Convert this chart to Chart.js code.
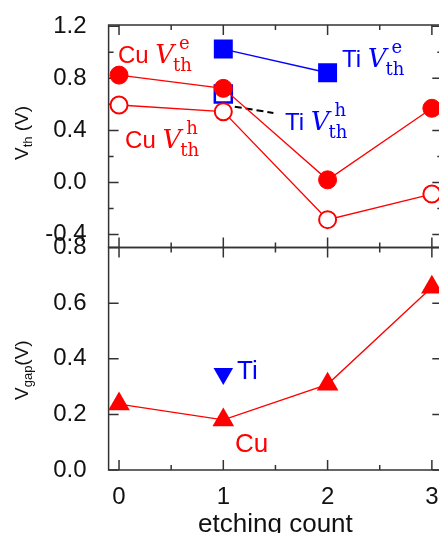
<!DOCTYPE html>
<html>
<head>
<meta charset="utf-8">
<script src="https://cdn.jsdelivr.net/npm/chart.js@4.4.0/dist/chart.umd.min.js"></script>
<style>
  html, body { margin: 0; padding: 0; overflow: hidden; background: #fff; }
  #wrap { position: relative; width: 439px; height: 533px; overflow: hidden; }
  canvas { position: absolute; left: 0; }
  #topChart { top: -20px; }
  #bottomChart { top: 200px; }
</style>
</head>
<body>
<div id="wrap">
  <canvas id="topChart" width="460" height="300"></canvas>
  <canvas id="bottomChart" width="460" height="338"></canvas>
</div>
<script>
// data
const etchCount = [0, 1, 2, 3];
const cuVthE = [0.825, 0.723, 0.02, 0.57];
const cuVthH = [0.595, 0.544, -0.286, -0.089];
const tiCountE = [1, 2];
const tiVthE = [1.025, 0.843];
const tiCountH = [1];
const tiVthH = [0.68];
const pointerX = [1.11, 1.48];
const pointerY = [0.582, 0.534];
const cuVgap = [0.237, 0.18, 0.308, 0.657];
const tiCountGap = [1];
const tiVgap = [0.346];

const xTicks = [0, 1, 2, 3];
const vthTicks = [-0.4, 0.0, 0.4, 0.8, 1.2];
const vgapTicks = [0.0, 0.2, 0.4, 0.6, 0.8];

const RED = '#ff0000';
const BLUE = '#0000ff';
const SANS = '"Liberation Sans", Arial, sans-serif';
const SERIF = '"DejaVu Serif", serif';

const pts = (xs, ys) => xs.map((x, i) => ({ x: x, y: ys[i] }));

// frame with inward ticks on all four sides
const framePlugin = {
    id: 'frame',
    beforeDatasetsDraw(chart, args, opts) {
        const { ctx, chartArea: a } = chart;
        const xs = chart.scales.x, ys = chart.scales.y;
        ctx.save();
        ctx.strokeStyle = '#333';
        ctx.lineWidth = 1.5;
        ctx.strokeRect(a.left, a.top, a.right - a.left, a.bottom - a.top);
        ctx.beginPath();
        const xTick = (v, len) => {
            const px = xs.getPixelForValue(v);
            ctx.moveTo(px, a.bottom); ctx.lineTo(px, a.bottom - len);
            ctx.moveTo(px, a.top); ctx.lineTo(px, a.top + len);
        };
        const yTick = (v, len) => {
            const py = ys.getPixelForValue(v);
            ctx.moveTo(a.left, py); ctx.lineTo(a.left + len, py);
            ctx.moveTo(a.right, py); ctx.lineTo(a.right - len, py);
        };
        xTicks.forEach(v => xTick(v, 10));
        xTicks.slice(0, -1).forEach(v => xTick(v + 0.5, 5));
        opts.yMajor.forEach(v => yTick(v, 10));
        (opts.yMinor || []).forEach(v => yTick(v, 5));
        ctx.stroke();
        ctx.restore();
    }
};

function drawThLabel(ctx, x, y, color, name, sup) {
    ctx.fillStyle = color;
    ctx.textAlign = 'left';
    ctx.textBaseline = 'alphabetic';
    ctx.font = '24px ' + SANS;
    ctx.fillText(name + ' ', x, y);
    let cx = x + ctx.measureText(name + ' ').width;
    ctx.font = 'italic 26px ' + SERIF;
    ctx.fillText('V', cx, y);
    cx += ctx.measureText('V').width;
    ctx.font = '18px ' + SERIF;
    ctx.fillText('th', cx - 1, y + 8);
    ctx.fillText(sup, cx + 5, y - 14);
}

function drawAxisTitle(ctx, x, y, sub) {
    ctx.save();
    ctx.translate(x, y);
    ctx.rotate(-Math.PI / 2);
    ctx.fillStyle = '#111';
    ctx.textAlign = 'left';
    ctx.textBaseline = 'alphabetic';
    ctx.font = '19px ' + SANS;
    ctx.fillText('V', 0, 0);
    let cx = ctx.measureText('V').width;
    ctx.font = '13px ' + SANS;
    ctx.fillText(sub, cx, 4);
    cx += ctx.measureText(sub).width;
    ctx.font = '19px ' + SANS;
    ctx.fillText(sub === 'th' ? ' (V)' : '(V)', cx, 0);
    ctx.restore();
}

const topLabels = {
    id: 'topLabels',
    afterDraw(chart) {
        const { ctx } = chart;
        const xs = chart.scales.x, ys = chart.scales.y;
        const at = (x, y) => [xs.getPixelForValue(x), ys.getPixelForValue(y)];
        ctx.save();
        let p = at(-0.01, 0.915); drawThLabel(ctx, p[0], p[1], RED, 'Cu', 'e');
        p = at(0.058, 0.265); drawThLabel(ctx, p[0], p[1], RED, 'Cu', 'h');
        p = at(2.138, 0.885); drawThLabel(ctx, p[0], p[1], BLUE, 'Ti', 'e');
        p = at(1.592, 0.405); drawThLabel(ctx, p[0], p[1], BLUE, 'Ti', 'h');
        ctx.restore();
        // canvas is shifted up by 20px
        drawAxisTitle(ctx, 28, 180, 'th');
    }
};

const bottomLabels = {
    id: 'bottomLabels',
    afterDraw(chart) {
        const { ctx } = chart;
        const xs = chart.scales.x, ys = chart.scales.y;
        ctx.save();
        ctx.font = '26px ' + SANS;
        ctx.textAlign = 'left';
        ctx.textBaseline = 'alphabetic';
        ctx.fillStyle = BLUE;
        ctx.fillText('Ti', xs.getPixelForValue(1.131), ys.getPixelForValue(0.327));
        ctx.fillStyle = RED;
        ctx.fillText('Cu', xs.getPixelForValue(1.112), ys.getPixelForValue(0.065));
        ctx.restore();
        drawAxisTitle(ctx, 28, 200, 'gap');
    }
};

const tickFont = { family: SANS, size: 24 };

function yScale(min, max, ticks) {
    return {
        type: 'linear',
        min: min,
        max: max,
        grid: { display: false },
        border: { display: false },
        afterBuildTicks: s => { s.ticks = ticks.map(v => ({ value: v })); },
        afterFit: s => { s.width = 108.6; },
        ticks: {
            color: '#111',
            font: tickFont,
            padding: 14,
            autoSkip: false,
            callback: v => v.toFixed(1)
        }
    };
}

const baseOptions = {
    responsive: false,
    animation: false,
    devicePixelRatio: 1,
    plugins: { legend: { display: false }, tooltip: { enabled: false } },
    elements: { line: { tension: 0 } }
};

new Chart(document.getElementById('topChart').getContext('2d'), {
    type: 'line',
    data: {
        datasets: [
            {
                data: pts(etchCount, cuVthE),
                borderColor: RED, borderWidth: 1.3,
                pointStyle: 'circle', pointRadius: 9, pointBorderWidth: 1,
                pointBackgroundColor: RED, pointBorderColor: RED
            },
            {
                data: pts(etchCount, cuVthH),
                borderColor: RED, borderWidth: 1.3,
                pointStyle: 'circle', pointRadius: 8.5, pointBorderWidth: 2,
                pointBackgroundColor: '#fff', pointBorderColor: RED
            },
            {
                data: pts(tiCountE, tiVthE),
                borderColor: BLUE, borderWidth: 1.3,
                pointStyle: 'rect', pointRadius: 13.4, pointBorderWidth: 0,
                pointBackgroundColor: BLUE, pointBorderColor: BLUE
            },
            {
                data: pts(pointerX, pointerY),
                borderColor: '#000', borderWidth: 2, borderDash: [7, 4],
                pointRadius: 0
            },
            {
                data: pts(tiCountH, tiVthH),
                showLine: false,
                pointStyle: 'rect', pointRadius: 12, pointBorderWidth: 2.5,
                pointBackgroundColor: 'rgba(0,0,0,0)', pointBorderColor: BLUE
            }
        ]
    },
    options: {
        ...baseOptions,
        layout: { padding: { left: 0, right: 17.7, top: 45, bottom: 32.5 } },
        scales: {
            x: { type: 'linear', min: -0.1, max: 3.1, display: false },
            y: yScale(-0.5, 1.21, vthTicks)
        },
        plugins: {
            ...baseOptions.plugins,
            frame: { yMajor: vthTicks, yMinor: [-0.2, 0.2, 0.6, 1.0] }
        }
    },
    plugins: [framePlugin, topLabels]
});

new Chart(document.getElementById('bottomChart').getContext('2d'), {
    type: 'line',
    data: {
        datasets: [
            {
                data: pts(tiCountGap, tiVgap),
                showLine: false,
                pointStyle: 'triangle', pointRotation: 180,
                pointRadius: 11.3, pointBorderWidth: 0,
                pointBackgroundColor: BLUE, pointBorderColor: BLUE
            },
            {
                data: pts(etchCount, cuVgap),
                borderColor: RED, borderWidth: 1.3,
                pointStyle: 'triangle', pointRadius: 12.5, pointBorderWidth: 0,
                pointBackgroundColor: RED, pointBorderColor: RED
            }
        ]
    },
    options: {
        ...baseOptions,
        layout: { padding: { left: 0, right: 17.7, top: 47.5, bottom: 0 } },
        scales: {
            x: {
                type: 'linear',
                min: -0.1,
                max: 3.1,
                position: 'bottom',
                grid: { display: false },
                border: { display: false },
                afterBuildTicks: s => { s.ticks = xTicks.map(v => ({ value: v })); },
                afterFit: s => { s.height = 68; },
                ticks: {
                    color: '#111',
                    font: tickFont,
                    padding: 5,
                    autoSkip: false,
                    maxRotation: 0,
                    callback: v => String(v)
                },
                title: {
                    display: true,
                    text: 'etching count',
                    color: '#111',
                    font: { family: SANS, size: 26, lineHeight: 1.0 },
                    padding: 0
                }
            },
            y: yScale(0, 0.8, vgapTicks)
        },
        plugins: {
            ...baseOptions.plugins,
            frame: { yMajor: vgapTicks }
        }
    },
    plugins: [framePlugin, bottomLabels]
});
</script>
</body>
</html>
